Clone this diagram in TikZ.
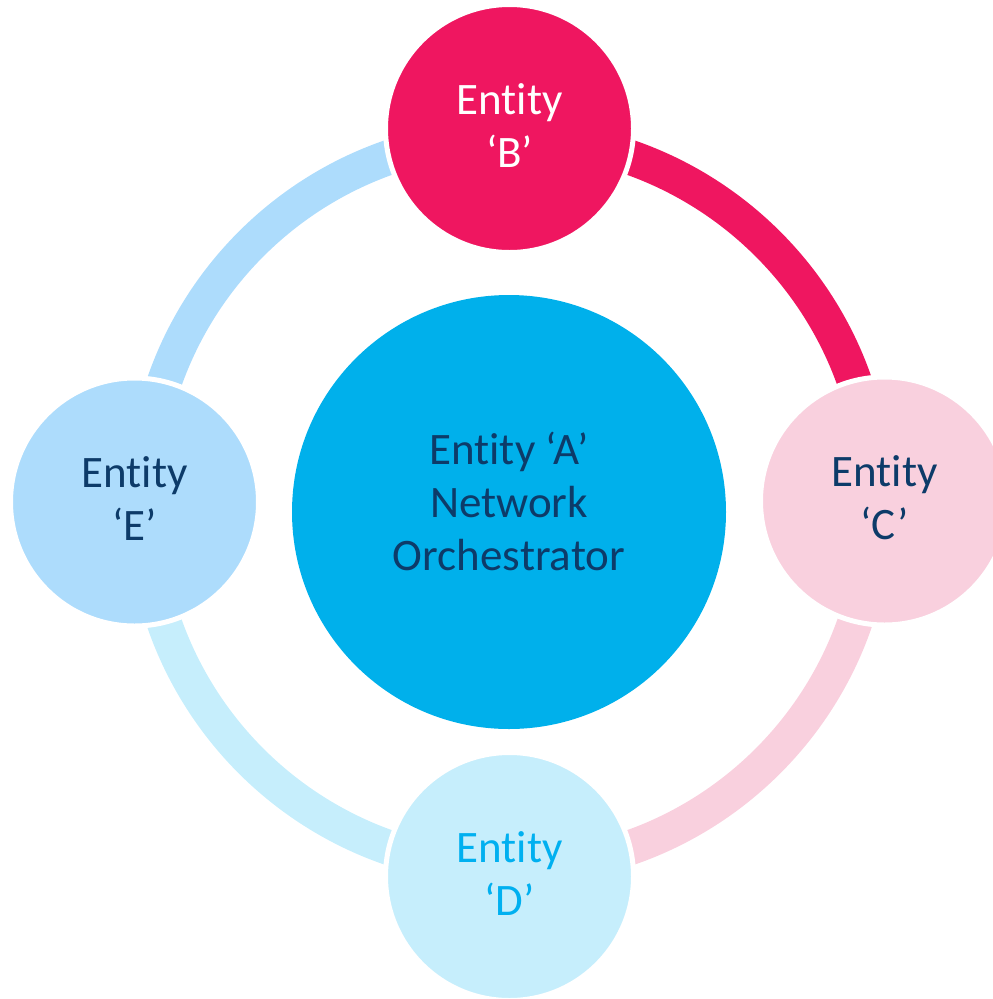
\documentclass[tikz,border=0pt]{standalone}
\usepackage{fontspec}
\setmainfont{Carlito}[Ligatures=NoCommon]
\definecolor{cA}{HTML}{00B0EB}
\definecolor{cB}{HTML}{EF1660}
\definecolor{cC}{HTML}{F9D0DE}
\definecolor{cD}{HTML}{C6EEFC}
\definecolor{cE}{HTML}{ADDCFC}
\definecolor{cText}{HTML}{0D3B69}
\definecolor{cDtext}{HTML}{00B0F0}
\begin{document}
\begin{tikzpicture}[x=1pt,y=-1pt]
\useasboundingbox (0,0) rectangle (993,999);
\tikzset{
  sat/.style={circle, minimum size=248pt, inner sep=0pt, draw=white, line width=5pt},
  ringarc/.style={line width=35pt, line cap=butt},
  txt/.style={align=center, font=\fontsize{45}{53}\selectfont, text=cText}
}
\coordinate (O) at (509.5,502.5);
% ring arcs
\draw[ringarc, draw=cE] (O) ++(180:365.5) arc[start angle=180, end angle=270, radius=365.5];
\draw[ringarc, draw=cB] (O) ++(270:365.5) arc[start angle=270, end angle=360, radius=365.5];
\draw[ringarc, draw=cC] (O) ++(0:365.5) arc[start angle=0, end angle=90, radius=365.5];
\draw[ringarc, draw=cD] (O) ++(90:365.5) arc[start angle=90, end angle=180, radius=365.5];
% centre
\node[circle, minimum size=434pt, inner sep=0pt, fill=cA] (A) at (509,512) {};
\node[txt] (At) at (509,501) {Entity ‘A’\\Network\\Orchestrator};
% satellites
\node[sat, fill=cB] (B) at (509.5,128.5) {};
\node[sat, fill=cC] (C) at (884.5,501) {};
\node[sat, fill=cD] (D) at (509.5,876.5) {};
\node[sat, fill=cE] (E) at (134.5,502) {};
\node[txt, text=white] (Bt) at (509.5,125.5) {Entity\\‘B’};
\node[txt] (Ct) at (884.5,498) {Entity\\‘C’};
\node[txt, text=cDtext] (Dt) at (509.5,873.5) {Entity\\‘D’};
\node[txt] (Et) at (134.5,499) {Entity\\‘E’};
\end{tikzpicture}
\end{document}
